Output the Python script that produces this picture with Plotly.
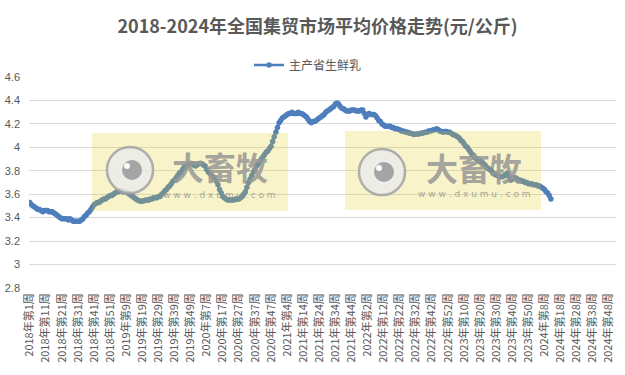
import plotly.graph_objects as go

# ---------------- data ----------------
years = [2018, 2019, 2020, 2021, 2022, 2023, 2024]
weeks_per_year = [52, 52, 53, 52, 52, 52, 52]

series_name = "主产省生鲜乳"
title_text = "2018-2024年全国集贸市场平均价格走势(元/公斤)"

price_2018 = [3.53, 3.51, 3.50, 3.49, 3.48, 3.47, 3.47, 3.46, 3.45, 3.46,
              3.46, 3.46, 3.45, 3.45, 3.45, 3.44, 3.43, 3.42, 3.41, 3.40,
              3.39, 3.39, 3.39, 3.39, 3.38, 3.39, 3.38, 3.37, 3.37, 3.37,
              3.37, 3.37, 3.38, 3.39, 3.41, 3.42, 3.44, 3.45, 3.47, 3.49,
              3.51, 3.52, 3.53, 3.53, 3.54, 3.55, 3.56, 3.56, 3.57, 3.58,
              3.59, 3.59]
price_2019 = [3.60, 3.61, 3.62, 3.62, 3.63, 3.63, 3.62, 3.62, 3.62, 3.61,
              3.60, 3.59, 3.58, 3.57, 3.56, 3.55, 3.545, 3.54, 3.54, 3.545,
              3.55, 3.55, 3.55, 3.56, 3.56, 3.57, 3.57, 3.57, 3.58, 3.58,
              3.60, 3.61, 3.63, 3.64, 3.66, 3.67, 3.69, 3.71, 3.72, 3.74,
              3.76, 3.78, 3.79, 3.81, 3.83, 3.84, 3.85, 3.86, 3.865, 3.86,
              3.85, 3.84]
price_2020 = [3.85, 3.86, 3.865, 3.86, 3.85, 3.84, 3.81, 3.79, 3.78, 3.76,
              3.75, 3.73, 3.71, 3.68, 3.64, 3.61, 3.58, 3.57, 3.56, 3.55,
              3.55, 3.55, 3.55, 3.55, 3.56, 3.56, 3.56, 3.57, 3.58, 3.60,
              3.62, 3.66, 3.70, 3.73, 3.76, 3.79, 3.81, 3.84, 3.86, 3.88,
              3.90, 3.92, 3.94, 3.96, 3.97, 3.99, 4.01, 4.05, 4.09, 4.13,
              4.17, 4.21, 4.23]
price_2021 = [4.25, 4.26, 4.27, 4.28, 4.29, 4.29, 4.30, 4.29, 4.29, 4.29,
              4.30, 4.29, 4.29, 4.28, 4.27, 4.26, 4.24, 4.22, 4.21, 4.22,
              4.22, 4.23, 4.24, 4.25, 4.26, 4.27, 4.28, 4.30, 4.31, 4.32,
              4.33, 4.34, 4.35, 4.37, 4.38, 4.37, 4.35, 4.335, 4.33, 4.32,
              4.31, 4.31, 4.31, 4.32, 4.32, 4.32, 4.31, 4.31, 4.31, 4.32,
              4.32, 4.29]
price_2022 = [4.26, 4.28, 4.29, 4.28, 4.28, 4.28, 4.27, 4.25, 4.23, 4.22,
              4.20, 4.19, 4.18, 4.18, 4.18, 4.18, 4.17, 4.17, 4.16, 4.16,
              4.155, 4.15, 4.14, 4.14, 4.135, 4.13, 4.13, 4.12, 4.12, 4.115,
              4.11, 4.115, 4.115, 4.115, 4.12, 4.12, 4.125, 4.13, 4.13, 4.14,
              4.14, 4.145, 4.15, 4.15, 4.16, 4.15, 4.14, 4.135, 4.13, 4.135,
              4.135, 4.13]
price_2023 = [4.13, 4.12, 4.11, 4.105, 4.10, 4.09, 4.08, 4.06, 4.05, 4.03,
              4.01, 4.00, 3.98, 3.96, 3.94, 3.93, 3.91, 3.90, 3.89, 3.88,
              3.88, 3.86, 3.85, 3.83, 3.82, 3.81, 3.80, 3.78, 3.77, 3.765,
              3.76, 3.75, 3.75, 3.75, 3.76, 3.77, 3.78, 3.75, 3.72, 3.73,
              3.74, 3.74, 3.73, 3.72, 3.72, 3.71, 3.71, 3.70, 3.70, 3.69,
              3.69, 3.69]
price_2024 = [3.68, 3.68, 3.68, 3.67, 3.67, 3.66, 3.65, 3.64, 3.62, 3.61,
              3.59, 3.56]

y_tick_values = [2.8, 3.0, 3.2, 3.4, 3.6, 3.8, 4.0, 4.2, 4.4, 4.6]
y_tick_labels = ["2.8", "3", "3.2", "3.4", "3.6", "3.8", "4", "4.2", "4.4", "4.6"]

# ---------------- derived ----------------
categories = [f"{y}年第{w}周" for y, n in zip(years, weeks_per_year) for w in range(1, n + 1)]
values = price_2018 + price_2019 + price_2020 + price_2021 + price_2022 + price_2023 + price_2024
x_cats = categories[:len(values)]
tick_cats = categories[::10]

W, H = 625, 375
L, R, T, B = 29, 9, 77, 87
PW, PH = W - L - R, H - T - B


def px(xp):  # window pixel -> paper
    return (xp - L) / PW


def py(yp):
    return (H - B - yp) / PH


line_color = "#4F7EBC"
text_color = "#595959"
font_cjk = "Noto Sans CJK SC"

fig = go.Figure()
fig.add_trace(go.Scatter(
    x=x_cats, y=values, name=series_name, mode="lines+markers",
    line=dict(color=line_color, width=2.5),
    marker=dict(color=line_color, size=5.5, symbol="circle"),
))

shapes = []
annotations = []
# watermarks (yellow boxes with logo)
for (x0, x1, y0, y1, cx, cy, tx, ty, wy) in [
    (92, 288, 133, 211, 130, 170, 220, 166, 195),
    (345, 541, 131, 210, 382, 172, 474, 167, 194),
]:
    shapes.append(dict(type="rect", xref="paper", yref="paper",
                       x0=px(x0), x1=px(x1), y0=py(y1), y1=py(y0),
                       fillcolor="rgba(225,205,25,0.24)", line=dict(width=0), layer="above"))
    r = 23
    shapes.append(dict(type="circle", xref="paper", yref="paper",
                       x0=px(cx - r), x1=px(cx + r), y0=py(cy + r), y1=py(cy - r),
                       fillcolor="rgba(235,235,235,0.85)",
                       line=dict(color="rgba(165,165,165,0.9)", width=2.5), layer="above"))
    r2 = 10
    shapes.append(dict(type="circle", xref="paper", yref="paper",
                       x0=px(cx + 2 - r2), x1=px(cx + 2 + r2), y0=py(cy + r2), y1=py(cy - r2),
                       fillcolor="rgba(160,160,160,0.95)", line=dict(width=0), layer="above"))
    r3 = 3
    shapes.append(dict(type="circle", xref="paper", yref="paper",
                       x0=px(cx - 3 - r3), x1=px(cx - 3 + r3), y0=py(cy - 4 + r3), y1=py(cy - 4 - r3),
                       fillcolor="rgba(255,255,255,0.95)", line=dict(width=0), layer="above"))
    annotations.append(dict(x=px(tx), y=py(ty), xref="paper", yref="paper", text="<b>大畜牧</b>",
                            showarrow=False, xanchor="center", yanchor="middle",
                            font=dict(family=font_cjk, size=32, color="rgba(150,150,150,0.85)")))
    annotations.append(dict(x=px(tx), y=py(wy), xref="paper", yref="paper", text="w w w . d x u m u . c o m",
                            showarrow=False, xanchor="center", yanchor="middle",
                            font=dict(family="DejaVu Sans", size=9, color="rgba(150,150,150,0.85)")))

fig.update_layout(
    width=W, height=H,
    margin=dict(l=L, r=R, t=T, b=B, autoexpand=False),
    paper_bgcolor="white", plot_bgcolor="white",
    title=dict(text="<b>" + title_text + "</b>", x=0.508, xanchor="center",
               y=1 - 27 / H, yanchor="middle", yref="container",
               font=dict(family=font_cjk, size=18, color=text_color)),
    showlegend=True,
    legend=dict(orientation="h", x=px(249), xanchor="left", y=py(65), yanchor="middle",
                font=dict(family=font_cjk, size=12, color=text_color),
                bgcolor="rgba(0,0,0,0)"),
    shapes=shapes, annotations=annotations,
    xaxis=dict(type="category", categoryorder="array", categoryarray=categories,
               range=[-0.5, len(categories) - 0.5],
               tickmode="array", tickvals=tick_cats, ticktext=tick_cats,
               tickangle=-90, showgrid=False, showline=False, zeroline=False,
               ticks="", ticklabelstandoff=2,
               tickfont=dict(family=font_cjk, size=11, color=text_color), automargin=False),
    yaxis=dict(range=[2.799, 4.601], tickmode="array", tickvals=y_tick_values, ticktext=y_tick_labels,
               showgrid=True, gridcolor="#D9D9D9", gridwidth=1, zeroline=False, showline=False,
               ticks="", ticklabelstandoff=8,
               tickfont=dict(family="Liberation Sans", size=11, color=text_color), automargin=False),
)

fig.write_html(
    "out.html",
    config={"displayModeBar": False},
    post_script="document.documentElement.style.margin='0';document.body.style.margin='0';"
                "document.body.style.padding='0';document.documentElement.style.overflow='hidden';"
                "document.body.style.overflow='hidden';",
)
